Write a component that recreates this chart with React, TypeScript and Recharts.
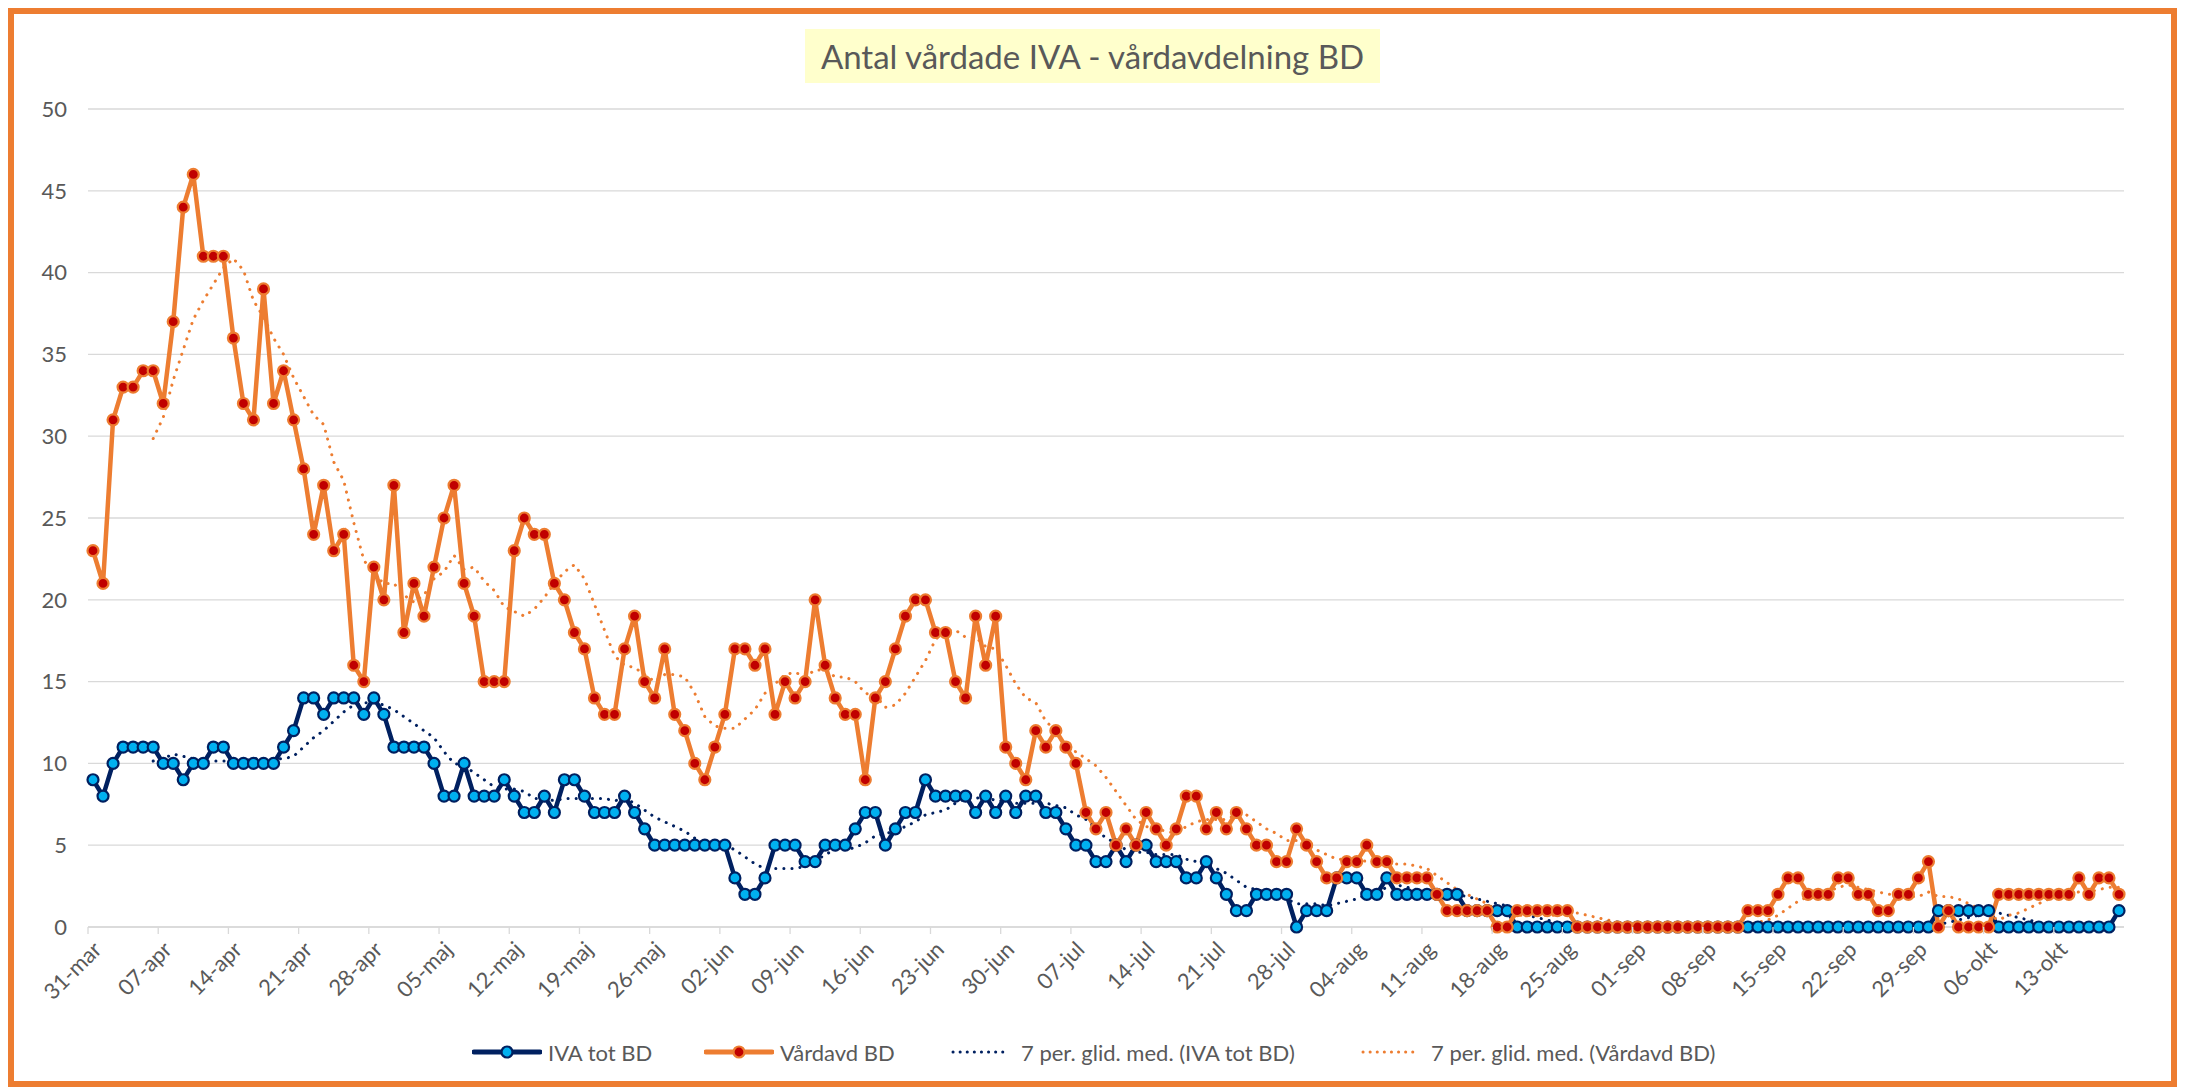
import { CartesianGrid, Line, LineChart, XAxis, YAxis } from "recharts";

// Swedish short month names, starting from the first day shown (31 March)
const monthNames = ["mar", "apr", "maj", "jun", "jul", "aug", "sep", "okt"];
const monthLengths = [31, 30, 31, 30, 31, 31, 30, 31];
const yTicks = [0, 5, 10, 15, 20, 25, 30, 35, 40, 45, 50];

// IVA tot BD, one value per day from 31-mar to 19-okt
const ivaTotBD = [
  9,
  // apr
  8, 10, 11, 11, 11, 11, 10, 10, 9, 10, 10, 11, 11, 10, 10, 10, 10, 10, 11, 12,
  14, 14, 13, 14, 14, 14, 13, 14, 13, 11,
  // maj
  11, 11, 11, 10, 8, 8, 10, 8, 8, 8, 9, 8, 7, 7, 8, 7, 9, 9, 8, 7,
  7, 7, 8, 7, 6, 5, 5, 5, 5, 5, 5,
  // jun
  5, 5, 3, 2, 2, 3, 5, 5, 5, 4, 4, 5, 5, 5, 6, 7, 7, 5, 6, 7,
  7, 9, 8, 8, 8, 8, 7, 8, 7, 8,
  // jul
  7, 8, 8, 7, 7, 6, 5, 5, 4, 4, 5, 4, 5, 5, 4, 4, 4, 3, 3, 4,
  3, 2, 1, 1, 2, 2, 2, 2, 0, 1, 1,
  // aug
  1, 3, 3, 3, 2, 2, 3, 2, 2, 2, 2, 2, 2, 2, 1, 1, 1, 1, 1, 0,
  0, 0, 0, 0, 0, 0, 0, 0, 0, 0, 0,
  // sep
  0, 0, 0, 0, 0, 0, 0, 0, 0, 0, 0, 0, 0, 0, 0, 0, 0, 0, 0, 0,
  0, 0, 0, 0, 0, 0, 0, 0, 0, 0,
  // okt
  1, 1, 1, 1, 1, 1, 0, 0, 0, 0, 0, 0, 0, 0, 0, 0, 0, 0, 1,
];

// Vårdavd BD, same days
const vardavdBD = [
  23,
  // apr
  21, 31, 33, 33, 34, 34, 32, 37, 44, 46, 41, 41, 41, 36, 32, 31, 39, 32, 34, 31,
  28, 24, 27, 23, 24, 16, 15, 22, 20, 27,
  // maj
  18, 21, 19, 22, 25, 27, 21, 19, 15, 15, 15, 23, 25, 24, 24, 21, 20, 18, 17, 14,
  13, 13, 17, 19, 15, 14, 17, 13, 12, 10, 9,
  // jun
  11, 13, 17, 17, 16, 17, 13, 15, 14, 15, 20, 16, 14, 13, 13, 9, 14, 15, 17, 19,
  20, 20, 18, 18, 15, 14, 19, 16, 19, 11,
  // jul
  10, 9, 12, 11, 12, 11, 10, 7, 6, 7, 5, 6, 5, 7, 6, 5, 6, 8, 8, 6,
  7, 6, 7, 6, 5, 5, 4, 4, 6, 5, 4,
  // aug
  3, 3, 4, 4, 5, 4, 4, 3, 3, 3, 3, 2, 1, 1, 1, 1, 1, 0, 0, 1,
  1, 1, 1, 1, 1, 0, 0, 0, 0, 0, 0,
  // sep
  0, 0, 0, 0, 0, 0, 0, 0, 0, 0, 0, 1, 1, 1, 2, 3, 3, 2, 2, 2,
  3, 3, 2, 2, 1, 1, 2, 2, 3, 4,
  // okt
  0, 1, 0, 0, 0, 0, 2, 2, 2, 2, 2, 2, 2, 2, 3, 2, 3, 3, 2,
];

const NAVY = "#002060";
const LIGHT_BLUE = "#00B0F0";
const ORANGE = "#ED7D31";
const DARK_RED = "#C00000";
const TEXT = "#595959";
const GRID = "#D9D9D9";
const FONT = "Lato, 'Open Sans', sans-serif";

function dayLabels(count: number) {
  const out: string[] = [];
  let m = 0;
  let d = 31;
  while (out.length < count) {
    out.push(`${String(d).padStart(2, "0")}-${monthNames[m]}`);
    d++;
    if (d > monthLengths[m]) {
      d = 1;
      m++;
    }
  }
  return out;
}

// Excel-style trailing moving average ("7 per. glid. med.")
function movingAverage(values: number[], period = 7) {
  return values.map((_, i) =>
    i < period - 1 ? null : values.slice(i - period + 1, i + 1).reduce((a, b) => a + b, 0) / period
  );
}

const dates = dayLabels(ivaTotBD.length);
const ivaAvg = movingAverage(ivaTotBD);
const vardAvg = movingAverage(vardavdBD);

const rows = dates.map((date, i) => ({
  date,
  iva: ivaTotBD[i],
  vard: vardavdBD[i],
  ivaAvg: ivaAvg[i],
  vardAvg: vardAvg[i],
}));

function DateTick(props: any) {
  const { x, y, payload } = props;
  const lx = x + 10;
  const ly = y + 24;
  return (
    <g>
      <line x1={x - 5} y1={y} x2={x - 5} y2={y + 7} stroke={GRID} strokeWidth={1.3} />
      <text
        x={lx}
        y={ly}
        transform={`rotate(-45 ${lx} ${ly})`}
        textAnchor="end"
        fill={TEXT}
        fontSize={22}
        fontFamily={FONT}
      >
        {payload.value}
      </text>
    </g>
  );
}

function LegendIcon({ kind, color, fill }: { kind: "marker" | "dots"; color: string; fill?: string }) {
  return (
    <svg width={70} height={20} style={{ display: "block" }}>
      {kind === "marker" ? (
        <>
          <line x1={2} y1={10} x2={68} y2={10} stroke={color} strokeWidth={5} strokeLinecap="round" />
          <circle cx={35} cy={10} r={5.5} fill={fill} stroke={color} strokeWidth={2.2} />
        </>
      ) : (
        <line x1={8} y1={10} x2={64} y2={10} stroke={color} strokeWidth={3} strokeDasharray="0.1 7" strokeLinecap="round" />
      )}
    </svg>
  );
}

const legendItems = [
  { label: "IVA tot BD", kind: "marker" as const, color: NAVY, fill: LIGHT_BLUE, left: 472 },
  { label: "Vårdavd BD", kind: "marker" as const, color: ORANGE, fill: DARK_RED, left: 704 },
  { label: "7 per. glid. med. (IVA tot BD)", kind: "dots" as const, color: NAVY, left: 945 },
  { label: "7 per. glid. med. (Vårdavd BD)", kind: "dots" as const, color: ORANGE, left: 1355 },
];

export default function App() {
  return (
    <div
      style={{
        position: "absolute",
        left: 0,
        top: 0,
        width: 2185,
        height: 1091,
        background: "#fff",
        overflow: "hidden",
        fontFamily: FONT,
      }}
    >
      <div
        style={{
          position: "absolute",
          left: 8,
          top: 8,
          width: 2169,
          height: 1079,
          border: `6px solid ${ORANGE}`,
          boxSizing: "border-box",
        }}
      />
      <div
        style={{
          position: "absolute",
          left: 805,
          top: 29,
          width: 575,
          height: 54,
          background: "#FFFFCC",
          color: TEXT,
          fontSize: 33,
          lineHeight: "54px",
          textAlign: "center",
          whiteSpace: "nowrap",
        }}
      >
        Antal vårdade IVA - vårdavdelning BD
      </div>

      <div style={{ position: "absolute", left: 0, top: 0 }}>
        <LineChart width={2185} height={1091} data={rows} margin={{ top: 109, right: 61, bottom: 64, left: 28 }}>
          <CartesianGrid vertical={false} stroke={GRID} strokeWidth={1.3} />
          <XAxis
            dataKey="date"
            interval={6}
            height={100}
            padding={{ left: 5, right: 5 }}
            axisLine={{ stroke: GRID, strokeWidth: 1.3 }}
            tickLine={false}
            tickSize={0}
            tickMargin={0}
            tick={(p: any) => <DateTick {...p} />}
          />
          <YAxis
            type="number"
            domain={[0, 50]}
            ticks={yTicks}
            width={60}
            axisLine={false}
            tickLine={false}
            tickMargin={15}
            tick={{ fill: TEXT, fontSize: 22, fontFamily: FONT }}
          />
          <Line
            dataKey="iva"
            name="IVA tot BD"
            stroke={NAVY}
            strokeWidth={4.5}
            dot={{ r: 5.5, fill: LIGHT_BLUE, stroke: NAVY, strokeWidth: 2.2 }}
            activeDot={false}
            isAnimationActive={false}
          />
          <Line
            dataKey="vard"
            name="Vårdavd BD"
            stroke={ORANGE}
            strokeWidth={4.5}
            dot={{ r: 5.5, fill: DARK_RED, stroke: ORANGE, strokeWidth: 2.2 }}
            activeDot={false}
            isAnimationActive={false}
          />
          <Line
            dataKey="ivaAvg"
            name="7 per. glid. med. (IVA tot BD)"
            stroke={NAVY}
            strokeWidth={3}
            strokeDasharray="0.1 8"
            strokeLinecap="round"
            dot={false}
            activeDot={false}
            isAnimationActive={false}
          />
          <Line
            dataKey="vardAvg"
            name="7 per. glid. med. (Vårdavd BD)"
            stroke={ORANGE}
            strokeWidth={3}
            strokeDasharray="0.1 8"
            strokeLinecap="round"
            dot={false}
            activeDot={false}
            isAnimationActive={false}
          />
        </LineChart>
      </div>

      {legendItems.map((item) => (
        <div
          key={item.label}
          style={{
            position: "absolute",
            left: item.left,
            top: 1038,
            height: 28,
            display: "flex",
            alignItems: "center",
            gap: 6,
            color: TEXT,
            fontSize: 22,
            whiteSpace: "nowrap",
          }}
        >
          <LegendIcon kind={item.kind} color={item.color} fill={item.fill} />
          <span>{item.label}</span>
        </div>
      ))}
    </div>
  );
}
